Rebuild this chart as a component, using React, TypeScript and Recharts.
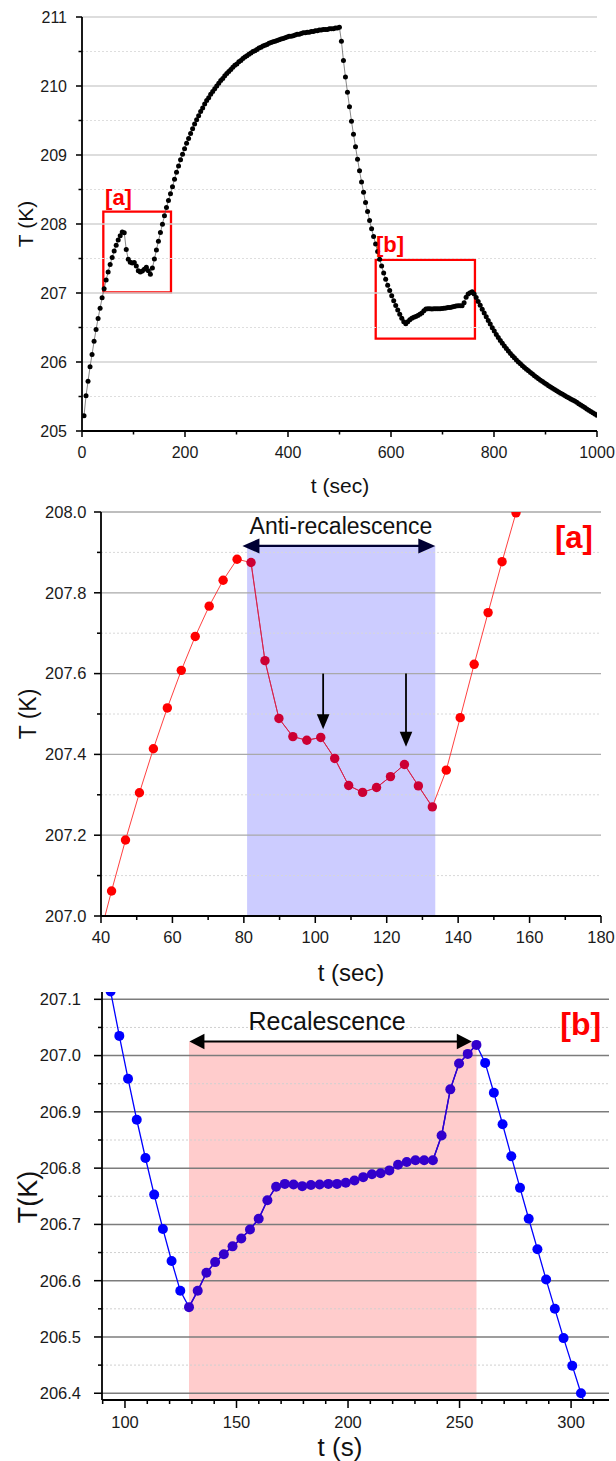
import React from 'react';
import { LineChart, Line, XAxis, YAxis, ReferenceLine, ReferenceArea, ReferenceDot } from 'recharts';

const FONT = '"Liberation Sans", Arial, Helvetica, sans-serif';

// ---------- data ----------
const SAMPLE_INTERVAL = 3.905; // s between two readings (first reading at 1 interval)
const COOLING_START = 500; // s : origin of the time axis of panel [b]

const temperatures: number[] = [
  205.22, 205.51, 205.72, 205.93, 206.11, 206.30, 206.47, 206.63, 206.78, 206.93,
  207.062, 207.188, 207.305, 207.414, 207.515, 207.608, 207.692, 207.767, 207.831, 207.883,
  207.875, 207.632, 207.489, 207.444, 207.435, 207.442, 207.390, 207.323, 207.306, 207.318,
  207.345, 207.375, 207.322, 207.270, 207.361, 207.491, 207.623, 207.751, 207.877, 207.998,
  208.12, 208.24, 208.34, 208.44, 208.54, 208.65, 208.75, 208.84, 208.93, 209.01,
  209.09, 209.17, 209.24, 209.31, 209.38, 209.45, 209.51, 209.57, 209.63, 209.68,
  209.74, 209.79, 209.83, 209.88, 209.92, 209.96, 210.00, 210.04, 210.08, 210.11,
  210.15, 210.18, 210.21, 210.24, 210.27, 210.30, 210.32, 210.35, 210.37, 210.40,
  210.42, 210.44, 210.46, 210.48, 210.50, 210.51, 210.53, 210.55, 210.56, 210.58,
  210.59, 210.60, 210.62, 210.63, 210.64, 210.65, 210.66, 210.67, 210.68, 210.69,
  210.70, 210.71, 210.72, 210.72, 210.73, 210.74, 210.75, 210.75, 210.76, 210.77,
  210.77, 210.78, 210.78, 210.79, 210.79, 210.80, 210.80, 210.81, 210.81, 210.82,
  210.82, 210.82, 210.83, 210.83, 210.83, 210.84, 210.84, 210.85, 210.65, 210.37,
  210.13, 209.91, 209.70, 209.49, 209.30, 209.12, 208.94, 208.77, 208.61, 208.46,
  208.31, 208.18, 208.05, 207.93, 207.82, 207.71, 207.60, 207.49, 207.39, 207.29,
  207.20, 207.114, 207.035, 206.959, 206.886, 206.818, 206.753, 206.692, 206.635, 206.582,
  206.553, 206.582, 206.614, 206.633, 206.647, 206.661, 206.675, 206.691, 206.710, 206.743,
  206.767, 206.772, 206.771, 206.768, 206.770, 206.771, 206.772, 206.772, 206.774, 206.778,
  206.784, 206.789, 206.791, 206.796, 206.806, 206.811, 206.814, 206.814, 206.814, 206.858,
  206.940, 206.986, 207.003, 207.019, 206.987, 206.934, 206.878, 206.821, 206.765, 206.710,
  206.656, 206.602, 206.550, 206.498, 206.449, 206.400, 206.355, 206.312, 206.271, 206.232,
  206.195, 206.159, 206.125, 206.092, 206.060, 206.030, 206.001, 205.973, 205.947, 205.921,
  205.896, 205.872, 205.848, 205.825, 205.802, 205.780, 205.758, 205.737, 205.716, 205.696,
  205.676, 205.657, 205.638, 205.619, 205.601, 205.583, 205.565, 205.548, 205.531, 205.514,
  205.497, 205.481, 205.465, 205.449, 205.433, 205.415, 205.396, 205.377, 205.358, 205.339,
  205.320, 205.302, 205.284, 205.266, 205.248, 205.230,
];

const fullRun = temperatures.map((T, i) => ({ t: (i + 1) * SAMPLE_INTERVAL, T }));
const panelAData = fullRun.filter((d) => d.t >= 35 && d.t <= 165);
const panelBData = fullRun
  .filter((d) => d.t >= COOLING_START + 80 && d.t <= COOLING_START + 320)
  .map((d) => ({ t: d.t - COOLING_START, T: d.T }));

// tick labels / grid levels
const topXMajors = [0, 200, 400, 600, 800, 1000];
const topXMinors = [100, 300, 500, 700, 900];
const topYMajors = [205, 206, 207, 208, 209, 210, 211];
const topYMinors = [205.5, 206.5, 207.5, 208.5, 209.5, 210.5];

const aXMajors = [40, 60, 80, 100, 120, 140, 160, 180];
const aXMinors = [50, 70, 90, 110, 130, 150, 170];
const aYMajors = [207.0, 207.2, 207.4, 207.6, 207.8, 208.0];
const aYMinors = [207.1, 207.3, 207.5, 207.7, 207.9];

const bXMajors = [100, 150, 200, 250, 300];
const bXMinors = [90, 110, 120, 130, 140, 160, 170, 180, 190, 210, 220, 230, 240, 260, 270, 280, 290, 310];
const bYMajors = [206.4, 206.5, 206.6, 206.7, 206.8, 206.9, 207.0, 207.1];
const bYMinors = [206.45, 206.55, 206.65, 206.75, 206.85, 206.95, 207.05];

// annotation regions
const zoomBoxA = { x1: 41.4, x2: 172.8, y1: 207.01, y2: 208.18 };
const zoomBoxB = { x1: 570.3, x2: 763, y1: 206.34, y2: 207.48 };
const antiRecalescence = { x1: 80.9, x2: 133.6, top: 207.916, arrowFrom: 79.6, arrowTo: 133.6 };
const recalescence = { x1: 128.7, x2: 257.6, top: 207.025, arrowFrom: 128.9, arrowTo: 255.5 };
const stepArrows = [
  { t: 102.2, from: 207.6, to: 207.462 },
  { t: 125.4, from: 207.6, to: 207.419 },
];

const panelAInside = panelAData.filter((d) => d.t >= antiRecalescence.x1 && d.t <= antiRecalescence.x2);
const panelBInside = panelBData.filter((d) => d.t >= recalescence.x1 && d.t <= recalescence.x2);

// ---------- helpers ----------
const isMajor = (v: number, majors: number[]) => majors.some((m) => Math.abs(m - v) < 1e-6);

type TickCfg = {
  majors: number[];
  major: number;
  minor: number;
  gap: number;
  fontSize: number;
  fmt: (v: number) => string;
  width: number;
};

const bottomTick = (c: TickCfg) => (p: any) => {
  const { x, y, payload } = p;
  const v = payload.value;
  const maj = isMajor(v, c.majors);
  return (
    <g>
      <line x1={x} x2={x} y1={y} y2={y + (maj ? c.major : c.minor)} stroke="#000" strokeWidth={c.width} />
      {maj && (
        <text x={x} y={y + c.gap} dy="0.71em" textAnchor="middle" fontSize={c.fontSize} fill="#1a1a1a" fontFamily={FONT}>
          {c.fmt(v)}
        </text>
      )}
    </g>
  );
};
const leftTick = (c: TickCfg) => (p: any) => {
  const { x, y, payload } = p;
  const v = payload.value;
  const maj = isMajor(v, c.majors);
  return (
    <g>
      <line x1={x - (maj ? c.major : c.minor)} x2={x} y1={y} y2={y} stroke="#000" strokeWidth={c.width} />
      {maj && (
        <text x={x - c.gap} y={y} dy="0.355em" textAnchor="end" fontSize={c.fontSize} fill="#1a1a1a" fontFamily={FONT}>
          {c.fmt(v)}
        </text>
      )}
    </g>
  );
};
const topTick = (c: TickCfg) => (p: any) => {
  const { x, y, payload } = p;
  const maj = isMajor(payload.value, c.majors);
  return <line x1={x} x2={x} y1={y} y2={y + (maj ? c.major : c.minor)} stroke="#000" strokeWidth={c.width} />;
};
const rightTick = (c: TickCfg) => (p: any) => {
  const { x, y, payload } = p;
  const maj = isMajor(payload.value, c.majors);
  return <line x1={x - (maj ? c.major : c.minor)} x2={x} y1={y} y2={y} stroke="#000" strokeWidth={c.width} />;
};

type FrameCfg = {
  xDomain: [number, number];
  yDomain: [number, number];
  xMajors: number[];
  xMinors: number[];
  yMajors: number[];
  yMinors: number[];
  xHeight: number;
  yWidth: number;
  major: number;
  minor: number;
  xGap: number;
  yGap: number;
  fontSize: number;
  fmtX: (v: number) => string;
  fmtY: (v: number) => string;
  axisWidth: number;
  xTitle: { text: string; x: number; y: number; size: number };
  yTitle: { text: string; x: number; y: number; size: number };
};

function frame(c: FrameCfg) {
  const xTicks = [...c.xMajors, ...c.xMinors].sort((a, b) => a - b);
  const yTicks = [...c.yMajors, ...c.yMinors].sort((a, b) => a - b);
  const axisLine = { stroke: '#000', strokeWidth: c.axisWidth };
  const base = { major: c.major, minor: c.minor, fontSize: c.fontSize, width: c.axisWidth * 0.85 };
  const xc: TickCfg = { ...base, majors: c.xMajors, gap: c.xGap, fmt: c.fmtX };
  const yc: TickCfg = { ...base, majors: c.yMajors, gap: c.yGap, fmt: c.fmtY };
  return [
    <XAxis
      key="xb"
      xAxisId="b"
      orientation="bottom"
      dataKey="t"
      type="number"
      domain={c.xDomain}
      allowDataOverflow
      ticks={xTicks}
      interval={0}
      tickSize={0}
      tickMargin={0}
      tickLine={false}
      axisLine={axisLine}
      height={c.xHeight}
      tick={bottomTick(xc)}
      label={{
        content: () => (
          <text x={c.xTitle.x} y={c.xTitle.y} textAnchor="middle" dominantBaseline="central" fontSize={c.xTitle.size} fill="#111" fontFamily={FONT}>
            {c.xTitle.text}
          </text>
        ),
      }}
    />,
    <XAxis
      key="xt"
      xAxisId="t"
      orientation="top"
      type="number"
      domain={c.xDomain}
      allowDataOverflow
      ticks={xTicks}
      interval={0}
      tickSize={0}
      tickMargin={0}
      tickLine={false}
      axisLine={axisLine}
      height={0}
      tick={topTick(xc)}
    />,
    <YAxis
      key="yl"
      yAxisId="l"
      orientation="left"
      dataKey="T"
      type="number"
      domain={c.yDomain}
      allowDataOverflow
      ticks={yTicks}
      interval={0}
      tickSize={0}
      tickMargin={0}
      tickLine={false}
      axisLine={axisLine}
      width={c.yWidth}
      tick={leftTick(yc)}
      label={{
        content: () => (
          <text
            x={c.yTitle.x}
            y={c.yTitle.y}
            textAnchor="middle"
            dominantBaseline="central"
            fontSize={c.yTitle.size}
            fill="#111"
            fontFamily={FONT}
            transform={`rotate(-90 ${c.yTitle.x} ${c.yTitle.y})`}
          >
            {c.yTitle.text}
          </text>
        ),
      }}
    />,
    <YAxis
      key="yr"
      yAxisId="r"
      orientation="right"
      type="number"
      domain={c.yDomain}
      allowDataOverflow
      ticks={yTicks}
      interval={0}
      tickSize={0}
      tickMargin={0}
      tickLine={false}
      axisLine={axisLine}
      width={0}
      tick={rightTick(yc)}
    />,
  ];
}

function grid(majors: number[], minors: number[], solid: { stroke: string; width: number }, dotted: { stroke: string; width: number }) {
  return [
    ...minors.map((v) => (
      <ReferenceLine key={'gm' + v} xAxisId="b" yAxisId="l" y={v} stroke={dotted.stroke} strokeWidth={dotted.width} strokeDasharray="2 2" />
    )),
    ...majors.map((v) => (
      <ReferenceLine key={'gM' + v} xAxisId="b" yAxisId="l" y={v} stroke={solid.stroke} strokeWidth={solid.width} />
    )),
  ];
}

const arrowShape =
  (o: { double: boolean; head: number; half: number; color: string; width: number }) =>
  (p: any) => {
    const x1 = Number(p.x1);
    const y1 = Number(p.y1);
    const x2 = Number(p.x2);
    const y2 = Number(p.y2);
    const dx = x2 - x1;
    const dy = y2 - y1;
    const L = Math.hypot(dx, dy) || 1;
    const ux = dx / L;
    const uy = dy / L;
    const nx = -uy;
    const ny = ux;
    const headPath = (tx: number, ty: number, dirx: number, diry: number) =>
      `M${tx},${ty} L${tx - dirx * o.head + nx * o.half},${ty - diry * o.head + ny * o.half} L${tx - dirx * o.head - nx * o.half},${ty - diry * o.head - ny * o.half} Z`;
    const sx = o.double ? x1 + ux * o.head * 0.9 : x1;
    const sy = o.double ? y1 + uy * o.head * 0.9 : y1;
    const ex = x2 - ux * o.head * 0.9;
    const ey = y2 - uy * o.head * 0.9;
    return (
      <g>
        <line x1={sx} y1={sy} x2={ex} y2={ey} stroke={o.color} strokeWidth={o.width} />
        <path d={headPath(x2, y2, ux, uy)} fill={o.color} />
        {o.double && <path d={headPath(x1, y1, -ux, -uy)} fill={o.color} />}
      </g>
    );
  };

const textShape =
  (text: string, size: number, color: string, bold: boolean) =>
  (p: any) => (
    <text
      x={p.cx}
      y={p.cy}
      textAnchor="middle"
      dominantBaseline="central"
      fontSize={size}
      fontWeight={bold ? 'bold' : 'normal'}
      fill={color}
      fontFamily={FONT}
    >
      {text}
    </text>
  );

// dot renderer: skips points lying inside the shaded band (those are drawn by the tinted overlay series)
const outsideDot =
  (r: number, fill: string, x1: number, x2: number) =>
  (p: any) => {
    const inside = p.payload && p.payload.t >= x1 && p.payload.t <= x2;
    if (inside || p.cx == null || p.cy == null) return <g key={'d' + p.index} />;
    return <circle key={'d' + p.index} cx={p.cx} cy={p.cy} r={r} fill={fill} />;
  };

// ---------- charts ----------
function TopChart() {
  return (
    <LineChart width={616} height={500} data={fullRun} margin={{ top: 17, right: 19, bottom: 17, left: 22 }}>
      {grid(topYMajors, topYMinors, { stroke: '#d2d2d2', width: 1.7 }, { stroke: '#dedede', width: 1 })}
      {frame({
        xDomain: [0, 1000],
        yDomain: [205, 211],
        xMajors: topXMajors,
        xMinors: topXMinors,
        yMajors: topYMajors,
        yMinors: topYMinors,
        xHeight: 52,
        yWidth: 60,
        major: 6,
        minor: 3.5,
        xGap: 16,
        yGap: 15,
        fontSize: 16,
        fmtX: (v) => String(v),
        fmtY: (v) => String(v),
        axisWidth: 1.8,
        xTitle: { text: 't (sec)', x: 340, y: 485, size: 21 },
        yTitle: { text: 'T (K)', x: 25, y: 224, size: 21 },
      })}
      <Line
        xAxisId="b"
        yAxisId="l"
        dataKey="T"
        stroke="#555"
        strokeWidth={0.7}
        dot={{ r: 2.5, fill: '#000', stroke: 'none', strokeWidth: 0 }}
        activeDot={false}
        isAnimationActive={false}
      />
      <ReferenceArea xAxisId="b" yAxisId="l" {...zoomBoxA} fill="none" stroke="#ff0000" strokeWidth={2.3} />
      <ReferenceArea xAxisId="b" yAxisId="l" {...zoomBoxB} fill="none" stroke="#ff0000" strokeWidth={2.3} />
      <ReferenceDot xAxisId="b" yAxisId="l" x={70.9} y={208.377} r={0} shape={textShape('[a]', 22, '#ff0000', true)} />
      <ReferenceDot xAxisId="b" yAxisId="l" x={598} y={207.71} r={0} shape={textShape('[b]', 22, '#ff0000', true)} />
    </LineChart>
  );
}

function PanelA() {
  return (
    <LineChart width={616} height={490} data={panelAData} margin={{ top: 12, right: 15, bottom: 14, left: 31 }}>
      {grid(aYMajors, aYMinors, { stroke: '#a9a9a9', width: 1.3 }, { stroke: '#d8d8d8', width: 1 })}
      {frame({
        xDomain: [40, 180],
        yDomain: [207, 208],
        xMajors: aXMajors,
        xMinors: aXMinors,
        yMajors: aYMajors,
        yMinors: aYMinors,
        xHeight: 60,
        yWidth: 70,
        major: 7,
        minor: 4,
        xGap: 15,
        yGap: 14.6,
        fontSize: 16.5,
        fmtX: (v) => String(v),
        fmtY: (v) => v.toFixed(1),
        axisWidth: 1.8,
        xTitle: { text: 't (sec)', x: 351, y: 472, size: 24 },
        yTitle: { text: 'T (K)', x: 28, y: 214, size: 23 },
      })}
      <ReferenceArea
        xAxisId="b"
        yAxisId="l"
        x1={antiRecalescence.x1}
        x2={antiRecalescence.x2}
        y1={207}
        y2={antiRecalescence.top}
        fill="#0000ff"
        fillOpacity={0.2}
        stroke="none"
      />
      <Line
        xAxisId="b"
        yAxisId="l"
        dataKey="T"
        stroke="#ff2a2a"
        strokeWidth={0.9}
        dot={outsideDot(4.7, '#ff0000', antiRecalescence.x1, antiRecalescence.x2)}
        activeDot={false}
        isAnimationActive={false}
      />
      <Line
        xAxisId="b"
        yAxisId="l"
        data={panelAInside}
        dataKey="T"
        stroke="#cc2255"
        strokeWidth={1}
        dot={{ r: 4.7, fill: '#cc0033', stroke: 'none', strokeWidth: 0 }}
        activeDot={false}
        isAnimationActive={false}
      />
      <ReferenceLine
        xAxisId="b"
        yAxisId="l"
        segment={[
          { x: antiRecalescence.arrowFrom, y: antiRecalescence.top },
          { x: antiRecalescence.arrowTo, y: antiRecalescence.top },
        ]}
        shape={arrowShape({ double: true, head: 17, half: 7.5, color: '#000033', width: 2.2 })}
      />
      {stepArrows.map((a) => (
        <ReferenceLine
          key={'s' + a.t}
          xAxisId="b"
          yAxisId="l"
          segment={[
            { x: a.t, y: a.from },
            { x: a.t, y: a.to },
          ]}
          shape={arrowShape({ double: false, head: 15, half: 6.3, color: '#000', width: 1.8 })}
        />
      ))}
      <ReferenceDot xAxisId="b" yAxisId="l" x={107.2} y={207.965} r={0} shape={textShape('Anti-recalescence', 23, '#111', false)} />
      <ReferenceDot xAxisId="b" yAxisId="l" x={172.4} y={207.936} r={0} shape={textShape('[a]', 31, '#ff0000', true)} />
    </LineChart>
  );
}

function PanelB() {
  return (
    <LineChart width={616} height={471} data={panelBData} margin={{ top: 2, right: 7, bottom: 11, left: 30 }}>
      {grid(bYMajors, bYMinors, { stroke: '#7c7c7c', width: 1.5 }, { stroke: '#d0d0d0', width: 1 })}
      {frame({
        xDomain: [89.7, 317],
        yDomain: [206.388, 207.113],
        xMajors: bXMajors,
        xMinors: bXMinors,
        yMajors: bYMajors,
        yMinors: bYMinors,
        xHeight: 50,
        yWidth: 72,
        major: 8,
        minor: 4,
        xGap: 16,
        yGap: 21,
        fontSize: 16.5,
        fmtX: (v) => String(v),
        fmtY: (v) => v.toFixed(1),
        axisWidth: 1.8,
        xTitle: { text: 't (s)', x: 340, y: 457, size: 26 },
        yTitle: { text: 'T(K)', x: 27.5, y: 207, size: 27 },
      })}
      <ReferenceArea
        xAxisId="b"
        yAxisId="l"
        x1={recalescence.x1}
        x2={recalescence.x2}
        y1={206.388}
        y2={recalescence.top}
        fill="#ff0000"
        fillOpacity={0.2}
        stroke="none"
      />
      <Line
        xAxisId="b"
        yAxisId="l"
        dataKey="T"
        stroke="#0000ff"
        strokeWidth={1.3}
        dot={outsideDot(5, '#0000ff', recalescence.x1, recalescence.x2)}
        activeDot={false}
        isAnimationActive={false}
      />
      <Line
        xAxisId="b"
        yAxisId="l"
        data={panelBInside}
        dataKey="T"
        stroke="#3300cc"
        strokeWidth={1.4}
        dot={{ r: 5, fill: '#3300cc', stroke: 'none', strokeWidth: 0 }}
        activeDot={false}
        isAnimationActive={false}
      />
      <ReferenceLine
        xAxisId="b"
        yAxisId="l"
        segment={[
          { x: recalescence.arrowFrom, y: recalescence.top },
          { x: recalescence.arrowTo, y: recalescence.top },
        ]}
        shape={arrowShape({ double: true, head: 15, half: 7.7, color: '#000', width: 2.2 })}
      />
      <ReferenceDot xAxisId="b" yAxisId="l" x={190.6} y={207.061} r={0} shape={textShape('Recalescence', 25, '#111', false)} />
      <ReferenceDot xAxisId="b" yAxisId="l" x={304.3} y={207.056} r={0} shape={textShape('[b]', 32, '#ff0000', true)} />
    </LineChart>
  );
}

export default function App() {
  return (
    <div style={{ position: 'relative', width: 616, height: 1461, background: '#fff', fontFamily: FONT, overflow: 'hidden' }}>
      <style>{'body{margin:0;background:#fff}'}</style>
      <div style={{ position: 'absolute', left: 0, top: 0 }}>
        <TopChart />
      </div>
      <div style={{ position: 'absolute', left: 0, top: 500 }}>
        <PanelA />
      </div>
      <div style={{ position: 'absolute', left: 0, top: 990 }}>
        <PanelB />
      </div>
    </div>
  );
}
